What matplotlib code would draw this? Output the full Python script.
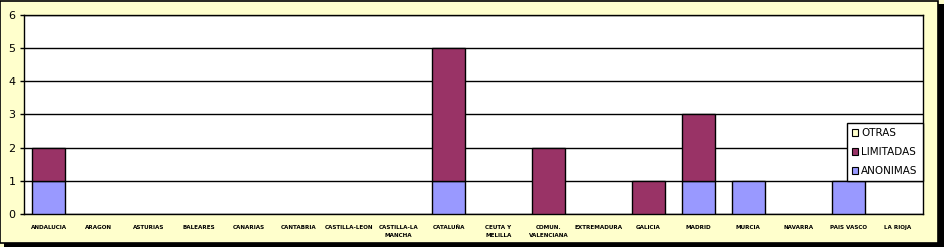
#!/usr/bin/env python3
"""Stacked bars of company types by Spanish region."""

import matplotlib

matplotlib.use("Agg")

import matplotlib.pyplot as plt
import numpy as np
from matplotlib.patches import Patch, Rectangle

REGIONS = [
    "ANDALUCIA", "ARAGON", "ASTURIAS", "BALEARES", "CANARIAS", "CANTABRIA",
    "CASTILLA-LEON", "CASTILLA-LA\nMANCHA", "CATALUÑA", "CEUTA Y\nMELILLA",
    "COMUN.\nVALENCIANA", "EXTREMADURA", "GALICIA", "MADRID", "MURCIA",
    "NAVARRA", "PAIS VASCO", "LA RIOJA",
]
ANONIMAS = [1, 0, 0, 0, 0, 0, 0, 0, 1, 0, 0, 0, 0, 1, 1, 0, 1, 0]
LIMITADAS = [1, 0, 0, 0, 0, 0, 0, 0, 4, 0, 2, 0, 1, 2, 0, 0, 0, 0]
OTRAS = [0] * 18
Y_TICKS = [0, 1, 2, 3, 4, 5, 6]

BG = "#FFFFCC"
COLORS = {"ANONIMAS": "#9999FF", "LIMITADAS": "#993366", "OTRAS": "#FFFFCC"}

fig = plt.figure(figsize=(9.44, 2.47), dpi=100)
fig.patch.set_facecolor(BG)

# frame with drop shadow
fig.patches.append(Rectangle((4 / 944, 0), 940 / 944, 243 / 247, transform=fig.transFigure,
                             facecolor="black", edgecolor="none", zorder=0))
fig.patches.append(Rectangle((0, 4 / 247), 938 / 944, 242 / 247, transform=fig.transFigure,
                             facecolor=BG, edgecolor="black", linewidth=1.2, zorder=1))

ax = fig.add_axes([24 / 944, 1 - 214 / 247, 899 / 944, 199 / 247])
ax.set_facecolor("white")
ax.set_zorder(2)

x = np.arange(len(REGIONS))
w = 0.66
an = np.array(ANONIMAS)
li = np.array(LIMITADAS)
ot = np.array(OTRAS)
kw = dict(width=w, edgecolor="black", linewidth=1.0, zorder=3)
ax.bar(x, an, color=COLORS["ANONIMAS"], **kw)
ax.bar(x, li, bottom=an, color=COLORS["LIMITADAS"], **kw)
ax.bar(x, ot, bottom=an + li, color=COLORS["OTRAS"], **kw)
for c in ax.containers:
    for p in c.patches:
        if p.get_height() == 0:
            p.set_visible(False)

ax.set_xlim(-0.5, len(REGIONS) - 0.5)
ax.set_ylim(0, 6)
ax.set_yticks(Y_TICKS)
ax.yaxis.grid(True, color="black", linewidth=1.0)
ax.set_axisbelow(True)
ax.set_xticks(x)
ax.set_xticklabels(REGIONS, fontsize=4.1, fontweight="bold", linespacing=1.7, va="top")
ax.tick_params(axis="x", length=0, pad=8)
ax.tick_params(axis="y", labelsize=8, length=3, width=1, pad=3)
for s in ax.spines.values():
    s.set_color("black")
    s.set_linewidth(1.0)

handles = [Patch(facecolor=COLORS[k], edgecolor="black", linewidth=0.8, label=k)
           for k in ["OTRAS", "LIMITADAS", "ANONIMAS"]]
leg = fig.legend(handles=handles, loc="upper left",
                 bbox_to_anchor=(847 / 944, 1 - 123 / 247), fontsize=7.5,
                 frameon=True, fancybox=False, edgecolor="black", framealpha=1,
                 handlelength=0.6, handleheight=0.6, handletextpad=0.25,
                 labelspacing=0.85, borderpad=0.5, borderaxespad=0)
leg.get_frame().set_linewidth(1.0)
leg.set_zorder(5)

fig.savefig("out.png", dpi=100, facecolor=BG)
